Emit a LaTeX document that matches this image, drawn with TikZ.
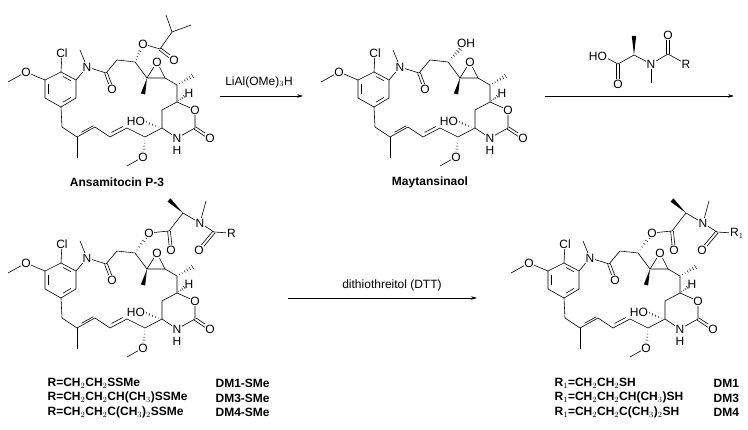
\documentclass[tikz,border=0pt]{standalone}
\usepackage{fontspec}
\setmainfont{Liberation Sans}
\usetikzlibrary{calc,arrows.meta}
\newcommand\dbo[2]{\draw ($(#1)!1.4pt!90:(#2)$) -- ($(#2)!1.4pt!-90:(#1)$); \draw ($(#1)!1.4pt!-90:(#2)$) -- ($(#2)!1.4pt!90:(#1)$);}
\newcommand\dbt[3]{\draw (#1) -- (#2); \draw ($(#1)!0.17!(#2)+(#3)$) -- ($(#1)!0.83!(#2)+(#3)$);}
\newcommand\wdg[2]{\fill (#1) -- ($(#2)!2.2pt!90:(#1)$) -- ($(#2)!2.2pt!-90:(#1)$) -- cycle;}
\newcommand\hsh[2]{\foreach \i in {1,...,6}{\draw[line width=0.45pt] ($($(#1)!{\i/6.6}!(#2)$)!{0.38pt*\i}!90:(#2)$) -- ($($(#1)!{\i/6.6}!(#2)$)!{0.38pt*\i}!-90:(#2)$);}}
\newcommand\core{%
\coordinate (r1) at (61,72); \coordinate (r2) at (76,80); \coordinate (r3) at (76,98);
\coordinate (r4) at (61,107); \coordinate (r5) at (45,98); \coordinate (r6) at (45,80);
\coordinate (rc) at (61,89);
\coordinate (Cl) at (62,53); \coordinate (Om) at (26,72); \coordinate (Mm) at (8,82);
\coordinate (N) at (87,67); \coordinate (NM) at (80,50);
\coordinate (C1) at (106,73); \coordinate (O1) at (112,89);
\coordinate (C2) at (117,60); \coordinate (C3) at (135,62);
\coordinate (E1) at (147,78); \coordinate (E2) at (165,78); \coordinate (EO) at (157,62);
\coordinate (EM) at (143,94);
\coordinate (C4) at (177,85); \coordinate (C4M) at (194,75);
\coordinate (C5) at (177,102); \coordinate (H5) at (189,93);
\coordinate (O2) at (195,110); \coordinate (C6) at (195,128); \coordinate (O3) at (210,138);
\coordinate (N2) at (177,138); \coordinate (C7) at (162,128); \coordinate (C8) at (162,110);
\coordinate (HO) at (141,121);
\coordinate (C9) at (145,137); \coordinate (O4) at (143,157); \coordinate (M4) at (127,166);
\coordinate (D1) at (127,128); \coordinate (D2) at (110,137); \coordinate (D3) at (95,127);
\coordinate (D4) at (77,137); \coordinate (DM) at (77,158); \coordinate (D5) at (62,127);
\draw (r1)--(r2)--(r3)--(r4)--(r5)--(r6)--cycle;
\draw ($($(r1)!0.17!(r2)$)!0.2!(rc)$) -- ($($(r1)!0.83!(r2)$)!0.2!(rc)$);
\draw ($($(r3)!0.17!(r4)$)!0.2!(rc)$) -- ($($(r3)!0.83!(r4)$)!0.2!(rc)$);
\draw ($($(r5)!0.17!(r6)$)!0.2!(rc)$) -- ($($(r5)!0.83!(r6)$)!0.2!(rc)$);
\draw (r1)--(Cl); \draw (r6)--(Om)--(Mm); \draw (r2)--(N)--(NM); \draw (N)--(C1)--(C2)--(C3)--(E1)--(E2)--(EO)--(E1);
\dbo{C1}{O1} \wdg{E1}{EM} \draw (E2)--(C4)--(C5); \hsh{C4}{C4M} \hsh{C5}{H5}
\draw (C5)--(O2)--(C6)--(N2)--(C7)--(C8)--(C5); \dbo{C6}{O3} \hsh{C7}{HO}
\draw (C7)--(C9); \hsh{C9}{O4} \draw (O4)--(M4);
\draw (C9)--(D1); \dbt{D1}{D2}{-1.4,-3} \draw (D2)--(D3); \dbt{D3}{D4}{1.4,-3} \draw (D4)--(DM); \draw (D4)--(D5)--(r4);
\node[atom] at (Cl) {Cl}; \node[atom] at (Om) {O}; \node[atom] at (N) {N}; \node[atom] at (O1) {O};
\node[atom] at (EO) {O}; \node[atom,inner sep=0pt] at (H5) {H}; \node[atom] at (O2) {O}; \node[atom] at (O3) {O};
\node[atom] at (N2) {N}; \node[atom,inner sep=0pt] at ($(N2)+(0,12)$) {H}; \node[atom,anchor=east] at ($(HO)+(5,0)$) {HO};
\node[atom] at (O4) {O};
}
\newcommand\sidechain[1]{%
\coordinate (Oe) at (149,42); \coordinate (Ce) at (169,40); \coordinate (Oc) at (171,59);
\coordinate (Ca) at (183,22); \coordinate (Mw) at (169,9); \coordinate (Na) at (200,32); \coordinate (NMa) at (206,10);
\coordinate (Cb) at (214,41); \coordinate (Ob) at (199,59); \coordinate (Rr) at (229,42);
\hsh{C3}{Oe} \draw (Oe)--(Ce)--(Ca)--(Na)--(Cb)--(Rr); \draw (Na)--(NMa); \dbo{Ce}{Oc} \dbo{Cb}{Ob} \wdg{Ca}{Mw}
\node[atom] at (Oe) {O}; \node[atom] at (Oc) {O}; \node[atom] at (Na) {N}; \node[atom] at (Ob) {O};
\node[atom,anchor=west] at ($(Rr)+(-3,0)$) {#1};
}
\begin{document}
\begin{tikzpicture}[x=1pt,y=-1pt,line width=0.6pt,
  every node/.style={font=\fontsize{12}{14}\selectfont},
  atom/.style={fill=white,inner sep=0.8pt},
  lbl/.style={font=\fontsize{12}{14.5}\selectfont\bfseries},
  rxn/.style={-{Stealth[length=6pt,width=3.5pt]},line width=0.6pt}]
\useasboundingbox (0,0) rectangle (748,430);
% molecule 1
\begin{scope}
\core
\coordinate (Oe) at (143,44); \coordinate (Ce) at (160,49); \coordinate (Oc) at (174,60);
\coordinate (Ci) at (172,32); \coordinate (Mi1) at (166,15); \coordinate (Mi2) at (191,25);
\hsh{C3}{Oe} \draw (Oe)--(Ce)--(Ci)--(Mi1); \draw (Ci)--(Mi2); \dbo{Ce}{Oc}
\node[atom] at (Oe) {O}; \node[atom] at (Oc) {O};
\node[lbl] (n1) at (117,182) {Ansamitocin P-3};
\end{scope}
% arrow 1
\coordinate (a1s) at (220,96); \coordinate (a1e) at (303,96);
\draw[rxn] (a1s) -- (a1e);
\node (t1) at (259,82) {LiAl(OMe)$_3$H};
% molecule 2
\begin{scope}[shift={(313,0)}]
\core
\coordinate (OHc) at (148,48);
\hsh{C3}{OHc}
\node[atom,anchor=west] at (143,43) {OH};
\node[lbl] (n2) at (117,182) {Maytansinaol};
\end{scope}
% arrow 2 with reagent
\coordinate (a2s) at (545,96); \coordinate (a2e) at (734,96);
\draw[rxn] (a2s) -- (a2e);
\coordinate (gO) at (603,56); \coordinate (gC) at (618,64); \coordinate (gOc) at (618,84);
\coordinate (gCa) at (634,55); \coordinate (gMw) at (634,36); \coordinate (gN) at (651,64);
\coordinate (gNM) at (651,83); \coordinate (gCb) at (668,54); \coordinate (gOb) at (668,35); \coordinate (gR) at (686,64);
\draw (gO)--(gC)--(gCa)--(gN)--(gCb)--(gR); \draw (gN)--(gNM); \dbo{gC}{gOc} \dbo{gCb}{gOb} \wdg{gCa}{gMw}
\node[atom,anchor=east] at ($(gO)+(5,0)$) {HO}; \node[atom] at (gOc) {O}; \node[atom] at (gN) {N}; \node[atom] at (gOb) {O};
\node[atom] at (gR) {R};
% molecule 3
\begin{scope}[shift={(0,191)}]
\core
\sidechain{R}
\end{scope}
\node[lbl,anchor=west,align=left] (l3) at (44,398) {R=CH$_2$CH$_2$SSMe\\R=CH$_2$CH$_2$CH(CH$_3$)SSMe\\R=CH$_2$CH$_2$C(CH$_3$)$_2$SSMe};
\node[lbl,anchor=west,align=left] (d3) at (212,398) {DM1-SMe\\DM3-SMe\\DM4-SMe};
% arrow 3
\coordinate (a3s) at (288,298); \coordinate (a3e) at (477,298);
\draw[rxn] (a3s) -- (a3e);
\node (t3) at (392,285) {dithiothreitol (DTT)};
% molecule 4
\begin{scope}[shift={(503,191)}]
\core
\sidechain{R$_1$}
\end{scope}
\node[lbl,anchor=west,align=left] (l4) at (551,398) {R$_1$=CH$_2$CH$_2$SH\\R$_1$=CH$_2$CH$_2$CH(CH$_3$)SH\\R$_1$=CH$_2$CH$_2$C(CH$_3$)$_2$SH};
\node[lbl,anchor=west,align=left] (d4) at (710,398) {DM1\\DM3\\DM4};
\end{tikzpicture}
\end{document}
